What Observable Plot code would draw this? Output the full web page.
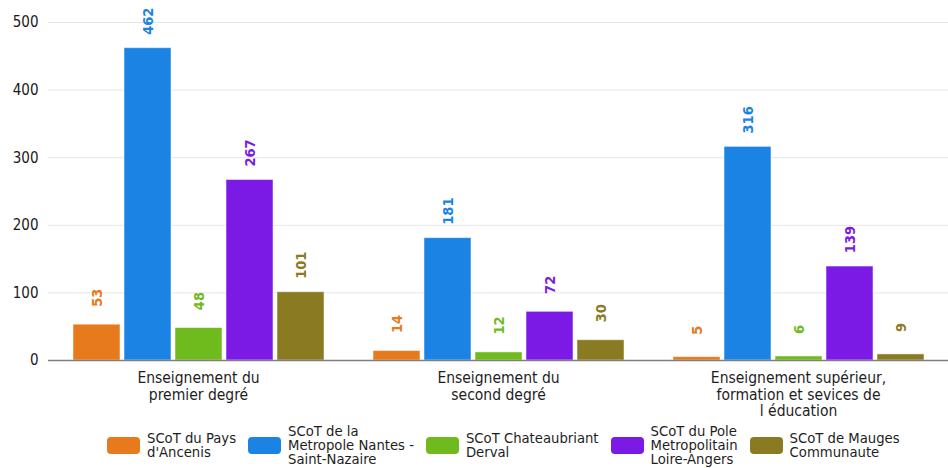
<!DOCTYPE html>
<html>
<head>
<meta charset="utf-8">
<script src="https://cdn.jsdelivr.net/npm/d3@7"></script>
<script src="https://cdn.jsdelivr.net/npm/@observablehq/plot@0.6"></script>
<style>
  html, body { margin: 0; padding: 0; background: #fff; overflow: hidden; }
  #chart { width: 948px; }
  .legend { display: flex; align-items: center; height: 46px; padding-left: 107px;
    font-family: "DejaVu Sans Condensed", "DejaVu Sans", sans-serif; font-size: 14.7px; color: #1e1e1e; }
  .item { display: flex; align-items: center; margin-right: 12px; }
  .sw { width: 33px; height: 17px; border-radius: 4px; margin-right: 7px; flex: none; }
  .lab { white-space: pre-line; line-height: 14px; }
</style>
</head>
<body>
<div id="chart"></div>
<script>
const categories = [
  "Enseignement du premier degré",
  "Enseignement du second degré",
  "Enseignement supérieur, formation et sevices de l éducation"
];
const categoryLabels = [
  "Enseignement du\npremier degré",
  "Enseignement du\nsecond degré",
  "Enseignement supérieur,\nformation et sevices de\nl éducation"
];
const series = [
  "SCoT du Pays d'Ancenis",
  "SCoT de la Metropole Nantes - Saint-Nazaire",
  "SCoT Chateaubriant Derval",
  "SCoT du Pole Metropolitain Loire-Angers",
  "SCoT de Mauges Communaute"
];
const legendLabels = [
  "SCoT du Pays\nd'Ancenis",
  "SCoT de la\nMetropole Nantes -\nSaint-Nazaire",
  "SCoT Chateaubriant\nDerval",
  "SCoT du Pole\nMetropolitain\nLoire-Angers",
  "SCoT de Mauges\nCommunaute"
];
const colors = ["#E67A1C", "#1A83E3", "#6FBA1C", "#7B1AE5", "#8A7A22"];
const paysAncenis = [53, 14, 5];
const nantesSaintNazaire = [462, 181, 316];
const chateaubriantDerval = [48, 12, 6];
const loireAngers = [267, 72, 139];
const maugesCommunaute = [101, 30, 9];
const yTicks = [0, 100, 200, 300, 400, 500];

const seriesValues = [paysAncenis, nantesSaintNazaire, chateaubriantDerval, loireAngers, maugesCommunaute];
const data = [];
categories.forEach((c, i) => {
  series.forEach((s, j) => data.push({category: c, series: s, value: seriesValues[j][i]}));
});
const labelOf = new Map(categories.map((c, i) => [c, categoryLabels[i]]));
const FONT = "DejaVu Sans Condensed, DejaVu Sans, sans-serif";

const chart = Plot.plot({
  width: 948,
  height: 422,
  marginTop: 22,
  marginLeft: 47,
  marginRight: 0,
  marginBottom: 62,
  style: {fontFamily: FONT, fontSize: "15px", color: "#1e1e1e", background: "white"},
  fx: {domain: categories, padding: 0, label: null, axis: null},
  x: {domain: series, paddingInner: 0.08, paddingOuter: 0.461, axis: null},
  y: {domain: [0, 500], axis: null},
  color: {domain: series, range: colors},
  marks: [
    Plot.gridY(yTicks.filter(d => d > 0), {stroke: "#e6e6e6", strokeOpacity: 1, strokeWidth: 1}),
    Plot.axisY(yTicks, {anchor: "left", tickSize: 0, tickPadding: 10, label: null,
      fontSize: 15, fill: "#1a1a1a"}),
    Plot.barY(data, {fx: "category", x: "series", y: "value", fill: "series",
      stroke: "white", strokeOpacity: 0.5, strokeWidth: 1}),
    Plot.ruleY([0], {stroke: "#808080", strokeWidth: 1.5}),
    Plot.text(data, {fx: "category", x: "series", y: "value", text: d => String(d.value),
      fill: "series", rotate: -90, dy: -27, textAnchor: "middle", fontWeight: "bold", fontSize: 14.5}),
    Plot.axisFx({anchor: "bottom", tickSize: 0, tickPadding: 11, label: null, lineHeight: 1.07,
      fontSize: 15.5, fill: "#1e1e1e", tickFormat: c => labelOf.get(c)})
  ]
});
document.getElementById("chart").appendChild(chart);

const legend = document.createElement("div");
legend.className = "legend";
series.forEach((s, i) => {
  const item = document.createElement("div");
  item.className = "item";
  const sw = document.createElement("div");
  sw.className = "sw";
  sw.style.background = colors[i];
  const lab = document.createElement("div");
  lab.className = "lab";
  lab.textContent = legendLabels[i];
  item.appendChild(sw);
  item.appendChild(lab);
  legend.appendChild(item);
});
document.getElementById("chart").appendChild(legend);
</script>
</body>
</html>
